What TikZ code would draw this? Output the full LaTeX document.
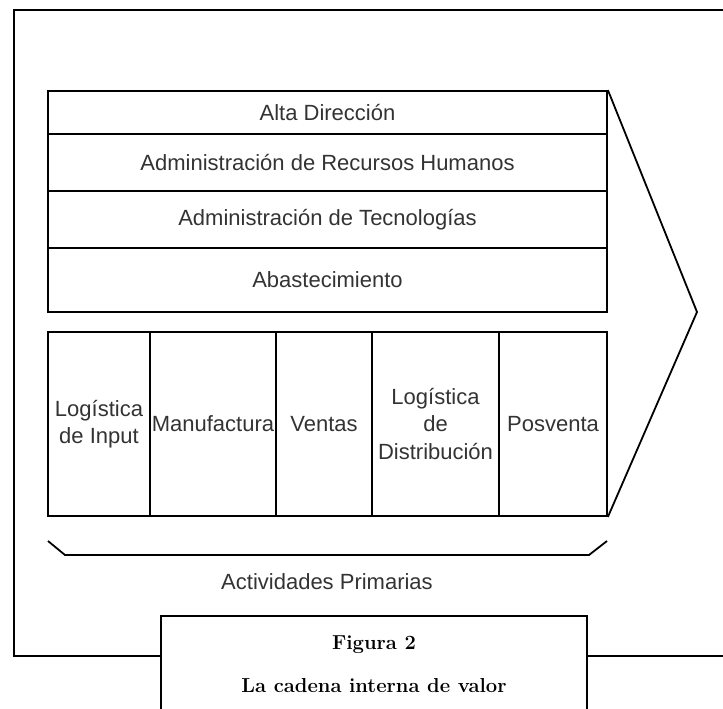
\documentclass[tikz,border=0pt]{standalone}
\usepackage{fontspec}
\newfontfamily\labfont{Liberation Sans}
\definecolor{txt}{gray}{0.2}
\tikzset{
  lab/.style={font=\labfont\fontsize{22bp}{27.5bp}\selectfont, text=txt, align=center, inner sep=0pt},
  blk/.style={draw=black, line width=1.8bp, rectangle, inner sep=0pt, anchor=center, lab},
  capt/.style={font=\bfseries\fontsize{20.2bp}{24bp}\selectfont, text=black, inner sep=0pt},
  frame/.style={draw=black, line width=1.5bp},
  thick line/.style={draw=black, line width=1.8bp, line join=miter}
}
\begin{document}
\begin{tikzpicture}[x=1bp,y=-1bp]
\useasboundingbox (0,0) rectangle (723,709);
% outer frame
\draw[frame] (723,10) -- (14,10) -- (14,656) -- (161,656);
\draw[frame] (587,656) -- (723,656);
% support activities
\node[blk, minimum width=559bp, minimum height=43bp] (alta) at (327.5,112.5) {Alta Dirección};
\node[blk, minimum width=559bp, minimum height=57bp] (rrhh) at (327.5,162.5) {Administración de Recursos Humanos};
\node[blk, minimum width=559bp, minimum height=57bp] (tec) at (327.5,219.5) {Administración de Tecnologías};
\node[blk, minimum width=559bp, minimum height=64bp] (abas) at (327.5,280) {Abastecimiento};
% primary activities
\node[blk, minimum width=102bp, minimum height=184bp] (inp) at (99,424) {Logística\\de Input};
\node[blk, minimum width=126bp, minimum height=184bp] (manu) at (213,424) {Manufactura};
\node[blk, minimum width=96bp, minimum height=184bp] (vent) at (324,424) {Ventas};
\node[blk, minimum width=127bp, minimum height=184bp] (dist) at (435.5,424) {Logística\\de\\Distribución};
\node[blk, minimum width=108bp, minimum height=184bp] (posv) at (553,424) {Posventa};
% margin arrow
\coordinate (tip) at (697,312);
\draw[thick line] (alta.north east) -- (tip) -- (posv.south east);
% brace
\coordinate (bl) at (48,541);
\coordinate (bl2) at (65,555);
\coordinate (br2) at (589,555);
\coordinate (br) at (607,541);
\draw[thick line] (bl) -- (bl2) -- (br2) -- (br);
\node[lab] (prim) at (327,582) {Actividades Primarias};
% caption box
\draw[thick line] (161,712) -- (161,616) -- (587,616) -- (587,712);
\node[capt, anchor=base] (fig) at (374,649) {Figura 2};
\node[capt, anchor=base] (title) at (374,692) {La cadena interna de valor};
\end{tikzpicture}
\end{document}
